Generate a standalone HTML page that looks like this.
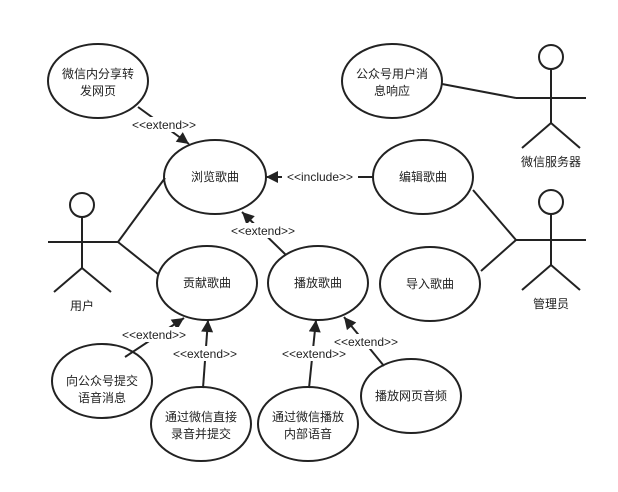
<!DOCTYPE html>
<html><head><meta charset="utf-8"><style>
html,body{margin:0;padding:0;background:#fff;}
svg{display:block;}
text{font-family:"Liberation Sans","Noto Sans CJK SC",sans-serif;font-size:12px;fill:#222;}
</style></head><body>
<svg width="618" height="492" viewBox="0 0 618 492">
<defs>
<marker id="a" viewBox="0 0 10 10" refX="10" refY="5" markerWidth="13" markerHeight="12" markerUnits="userSpaceOnUse" orient="auto"><path d="M0,0 L10,5 L0,10 Z" fill="#222"/></marker>
</defs>
<g fill="none" stroke="#222" stroke-width="2">
<circle cx="82" cy="205" r="12"/>
<line x1="82" y1="217" x2="82" y2="268"/>
<line x1="48" y1="242" x2="118" y2="242"/>
<line x1="82" y1="268" x2="54" y2="292"/>
<line x1="82" y1="268" x2="111" y2="292"/>
<circle cx="551" cy="57" r="12"/>
<line x1="551" y1="69" x2="551" y2="123"/>
<line x1="516" y1="98" x2="586" y2="98"/>
<line x1="551" y1="123" x2="522" y2="148"/>
<line x1="551" y1="123" x2="580" y2="148"/>
<circle cx="551" cy="202" r="12"/>
<line x1="551" y1="214" x2="551" y2="265"/>
<line x1="516" y1="240" x2="586" y2="240"/>
<line x1="551" y1="265" x2="522" y2="290"/>
<line x1="551" y1="265" x2="580" y2="290"/>
<line x1="118" y1="242" x2="165" y2="178"/>
<line x1="118" y1="242" x2="158" y2="274"/>
<line x1="516" y1="240" x2="473" y2="190"/>
<line x1="516" y1="240" x2="481" y2="271"/>
<line x1="516" y1="98" x2="442" y2="84"/>
<ellipse cx="98" cy="81" rx="50" ry="37"/>
<ellipse cx="392" cy="81" rx="50" ry="37"/>
<ellipse cx="215" cy="177" rx="51" ry="37"/>
<ellipse cx="423" cy="177" rx="50" ry="37"/>
<ellipse cx="207" cy="283" rx="50" ry="37"/>
<ellipse cx="318" cy="283" rx="50" ry="37"/>
<ellipse cx="430" cy="284" rx="50" ry="37"/>
<ellipse cx="102" cy="381" rx="50" ry="37"/>
<ellipse cx="201" cy="424" rx="50" ry="37"/>
<ellipse cx="308" cy="424" rx="50" ry="37"/>
<ellipse cx="411" cy="396" rx="50" ry="37"/>
<line x1="138" y1="107" x2="189" y2="144" marker-end="url(#a)"/>
<line x1="373" y1="177" x2="266" y2="177" marker-end="url(#a)"/>
<line x1="286" y1="255" x2="242" y2="212" marker-end="url(#a)"/>
<line x1="125" y1="357" x2="184" y2="318" marker-end="url(#a)"/>
<line x1="203" y1="388" x2="208" y2="320" marker-end="url(#a)"/>
<line x1="309" y1="388" x2="316" y2="320" marker-end="url(#a)"/>
<line x1="384" y1="366" x2="344" y2="317" marker-end="url(#a)"/>
</g>
<g fill="#fff">
<rect x="126" y="117" width="76" height="15"/>
<rect x="282" y="169" width="76" height="15"/>
<rect x="225" y="223" width="76" height="15"/>
<rect x="116" y="327" width="76" height="15"/>
<rect x="167" y="346" width="76" height="15"/>
<rect x="276" y="346" width="76" height="15"/>
<rect x="328" y="334" width="76" height="15"/>
</g>
<g text-anchor="middle">
<text x="164" y="129">&lt;&lt;extend&gt;&gt;</text>
<text x="320" y="181">&lt;&lt;include&gt;&gt;</text>
<text x="263" y="235">&lt;&lt;extend&gt;&gt;</text>
<text x="154" y="339">&lt;&lt;extend&gt;&gt;</text>
<text x="205" y="358">&lt;&lt;extend&gt;&gt;</text>
<text x="314" y="358">&lt;&lt;extend&gt;&gt;</text>
<text x="366" y="346">&lt;&lt;extend&gt;&gt;</text>
<text x="98" y="78">微信内分享转</text>
<text x="98" y="95">发网页</text>
<text x="392" y="78">公众号用户消</text>
<text x="392" y="95">息响应</text>
<text x="215" y="181">浏览歌曲</text>
<text x="423" y="181">编辑歌曲</text>
<text x="207" y="287">贡献歌曲</text>
<text x="318" y="287">播放歌曲</text>
<text x="430" y="288">导入歌曲</text>
<text x="102" y="385">向公众号提交</text>
<text x="102" y="402">语音消息</text>
<text x="201" y="421">通过微信直接</text>
<text x="201" y="438">录音并提交</text>
<text x="308" y="421">通过微信播放</text>
<text x="308" y="438">内部语音</text>
<text x="411" y="400">播放网页音频</text>
<text x="82" y="310">用户</text>
<text x="551" y="166">微信服务器</text>
<text x="551" y="308">管理员</text>
</g>
</svg>
</body></html>
